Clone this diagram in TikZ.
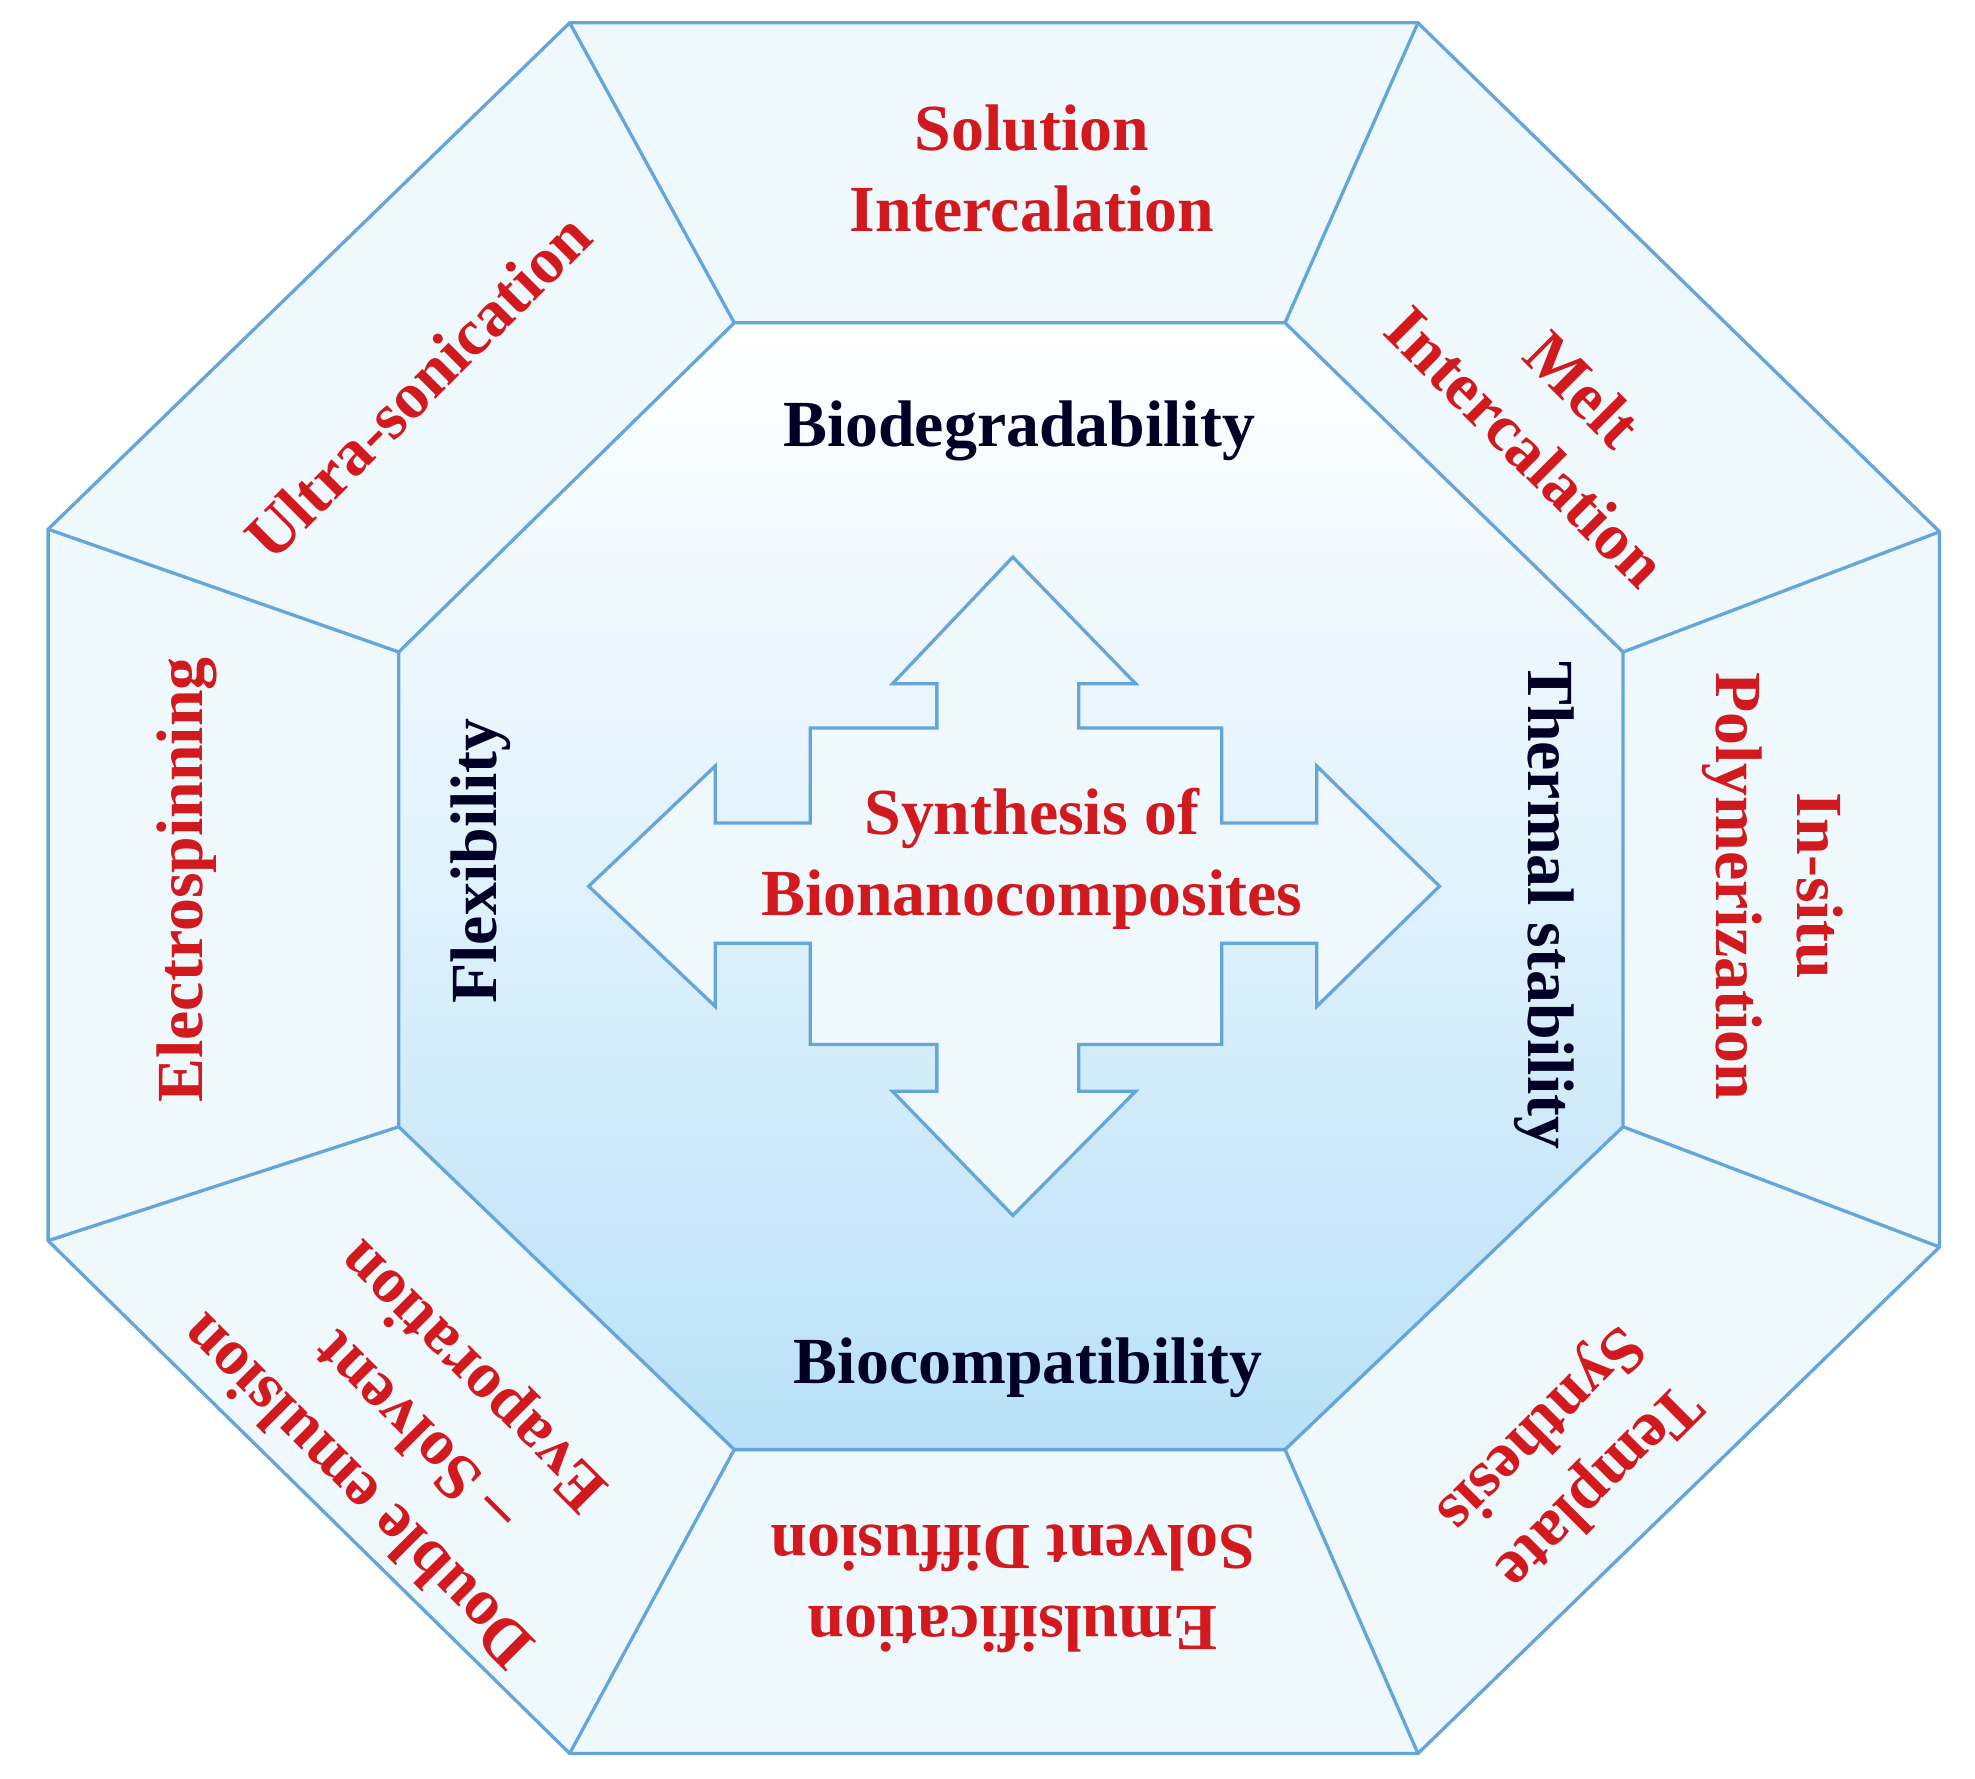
\documentclass[tikz,border=0pt]{standalone}
\usepackage{fontspec}
\setmainfont{Liberation Serif}
\begin{document}
\begin{tikzpicture}[x=0.5pt,y=-0.5pt,
  edge/.style={draw=lineblue,line width=1.3pt,line join=miter},
  red/.style={text=txtred,font=\fontsize{26}{32}\selectfont\bfseries,align=center},
  blk/.style={text=black!85!blue,font=\fontsize{26}{32}\selectfont\bfseries,align=center}]
\definecolor{lineblue}{RGB}{100,165,220}
\definecolor{pale}{RGB}{238,248,253}
\definecolor{deep}{RGB}{185,225,248}
\definecolor{txtred}{RGB}{210,25,30}
\useasboundingbox (0,0) rectangle (1560,1405);
% outer vertices
\coordinate (o1) at (450,18); \coordinate (o2) at (1120,18);
\coordinate (o3) at (1532,420); \coordinate (o4) at (1532,985);
\coordinate (o5) at (1120,1385); \coordinate (o6) at (450,1385);
\coordinate (o7) at (38,980); \coordinate (o8) at (38,418);
% inner vertices
\coordinate (i1) at (580,255); \coordinate (i2) at (1015,255);
\coordinate (i3) at (1282,515); \coordinate (i4) at (1282,890);
\coordinate (i5) at (1015,1145); \coordinate (i6) at (580,1145);
\coordinate (i7) at (315,890); \coordinate (i8) at (315,515);
\fill[pale] (o1)--(o2)--(o3)--(o4)--(o5)--(o6)--(o7)--(o8)--cycle;
\shade[top color=white,bottom color=deep,middle color=white!55!deep] (i1)--(i2)--(i3)--(i4)--(i5)--(i6)--(i7)--(i8)--cycle;
\draw[edge] (o1)--(o2)--(o3)--(o4)--(o5)--(o6)--(o7)--(o8)--cycle;
\draw[edge] (i1)--(i2)--(i3)--(i4)--(i5)--(i6)--(i7)--(i8)--cycle;
\foreach \k in {1,...,8} \draw[edge] (o\k)--(i\k);
% cross arrow
\draw[edge,fill=pale] (800,440)--(897,540)--(852,540)--(852,575)--(965,575)--(965,650)--(1040,650)--(1040,605)--(1137,700)--(1040,795)--(1040,745)--(965,745)--(965,825)--(852,825)--(852,862)--(897,862)--(800,960)--(705,862)--(740,862)--(740,825)--(640,825)--(640,745)--(565,745)--(565,795)--(465,700)--(565,605)--(565,650)--(640,650)--(640,575)--(740,575)--(740,540)--(705,540)--cycle;
% texts
\node[red] (sol) at (815,133) {Solution\\Intercalation};
\node[red,rotate=-45] (melt) at (1228,330) {Melt\\Intercalation};
\node[red,rotate=-90] (insitu) at (1400,700) {In-situ\\Polymerization};
\node[red,rotate=225] (tmp) at (1238,1150) {Template\\Synthesis};
\node[red,rotate=180] (emu) at (800,1255) {Emulsification\\Solvent Diffusion};
\node[red,rotate=135] (dbl) at (330,1130) {Double emulsion\\– Solvent\\Evaporation};
\node[red,rotate=90] (elec) at (148,695) {Electrospinning};
\node[red,rotate=45] (ultra) at (330,305) {Ultra-sonication};
\node[blk] (biod) at (805,340) {Biodegradability};
\node[blk] (bioc) at (812,1080) {Biocompatibility};
\node[blk,rotate=90] (flex) at (380,680) {Flexibility};
\node[blk,rotate=-90] (therm) at (1220,715) {Thermal stability};
\node[red] (syn) at (815,678) {Synthesis of\\Bionanocomposites};
\end{tikzpicture}
\end{document}
